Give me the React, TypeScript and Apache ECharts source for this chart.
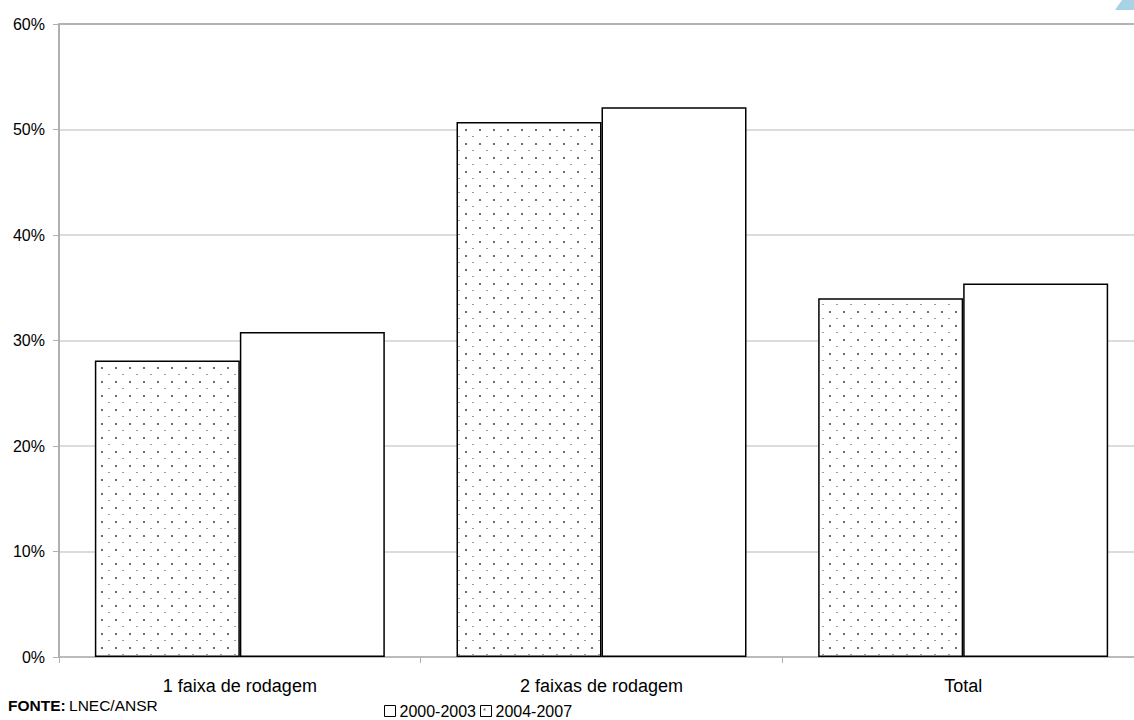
import React, { useEffect, useRef } from "react";
import * as echarts from "echarts";

const categories = ["1 faixa de rodagem", "2 faixas de rodagem", "Total"];
const seriesNames = ["2000-2003", "2004-2007"];
// dotted bars (left in each group)
const dottedValues = [28.1, 50.7, 34.0];
// plain bars (right in each group)
const plainValues = [30.8, 52.1, 35.4];
const yTicks = [0, 10, 20, 30, 40, 50, 60];

function makeDotPattern(): HTMLCanvasElement {
  const c = document.createElement("canvas");
  c.width = 14;
  c.height = 14;
  const ctx = c.getContext("2d")!;
  ctx.fillStyle = "#ffffff";
  ctx.fillRect(0, 0, 14, 14);
  ctx.fillStyle = "#6e6e6e";
  ctx.fillRect(3, 3, 2, 2);
  ctx.fillStyle = "#9a9a9a";
  ctx.fillRect(10, 10, 2, 1);
  return c;
}

const FONT = "Liberation Sans";
const VIEW_W = 1134;
const VIEW_H = 720;
// the plot area runs a little past the visible right edge
const CHART_W = 1144;

export default function App() {
  const ref = useRef<HTMLDivElement>(null);

  useEffect(() => {
    if (!ref.current) return;
    const chart = echarts.init(ref.current, undefined, { renderer: "svg" });
    const pattern = makeDotPattern();

    chart.setOption({
      animation: false,
      backgroundColor: "#ffffff",
      textStyle: { fontFamily: FONT },
      grid: { left: 59, right: 0, top: 24, bottom: 63 },
      legend: {
        data: [seriesNames[0], seriesNames[1]],
        left: 384,
        top: 703,
        padding: 0,
        itemWidth: 11,
        itemHeight: 11,
        itemGap: 4,
        icon: "rect",
        itemStyle: { borderWidth: 1 },
        textStyle: { fontSize: 16, color: "#000", fontFamily: FONT, padding: [0, 0, 0, -1] },
      },
      xAxis: {
        type: "category",
        data: categories,
        axisLine: { lineStyle: { color: "#b0b0b0", width: 1.5 } },
        axisTick: { show: true, alignWithLabel: false, length: 6, lineStyle: { color: "#b0b0b0" } },
        axisLabel: { fontSize: 18, color: "#000", margin: 20, fontFamily: FONT },
      },
      yAxis: {
        type: "value",
        min: 0,
        max: 60,
        interval: 10,
        axisLine: { show: true, lineStyle: { color: "#b0b0b0", width: 2 } },
        axisTick: { show: true, length: 6, lineStyle: { color: "#b0b0b0" } },
        axisLabel: {
          fontSize: 16,
          color: "#000",
          margin: 14,
          fontFamily: FONT,
          formatter: (v: number) => (yTicks.includes(v) ? `${v}%` : ""),
        },
        splitLine: {
          lineStyle: {
            color: ["#d0d0d0", "#d0d0d0", "#d0d0d0", "#d0d0d0", "#d0d0d0", "#d0d0d0", "#9a9a9a"],
            width: 1.5,
          },
        },
      },
      series: [
        {
          name: seriesNames[1],
          type: "bar",
          data: dottedValues,
          barWidth: 145,
          barGap: "0%",
          itemStyle: {
            color: { image: pattern, repeat: "repeat" },
            borderColor: "#000",
            borderWidth: 1.5,
          },
        },
        {
          name: seriesNames[0],
          type: "bar",
          data: plainValues,
          barWidth: 145,
          barGap: "0%",
          itemStyle: { color: "#ffffff", borderColor: "#000", borderWidth: 1.5 },
        },
      ],
      graphic: [
        {
          type: "text",
          left: 8,
          top: 697,
          style: {
            rich: {
              b: { fontWeight: "bold", fontSize: 15.5, fontFamily: FONT, fill: "#000" },
              n: { fontSize: 15.5, fontFamily: FONT, fill: "#000" },
            },
            text: "{b|FONTE:} {n|LNEC/ANSR}",
          },
        },
        {
          type: "polygon",
          shape: { points: [[1115, 10], [1122, 0], [1134, 0], [1134, 10]] },
          style: { fill: "#a8d3e6" },
        },
      ],
    });

    return () => chart.dispose();
  }, []);

  return (
    <div
      style={{
        position: "absolute",
        left: 0,
        top: 0,
        width: VIEW_W,
        height: VIEW_H,
        overflow: "hidden",
        background: "#fff",
      }}
    >
      <div ref={ref} style={{ width: CHART_W, height: VIEW_H }} />
    </div>
  );
}
